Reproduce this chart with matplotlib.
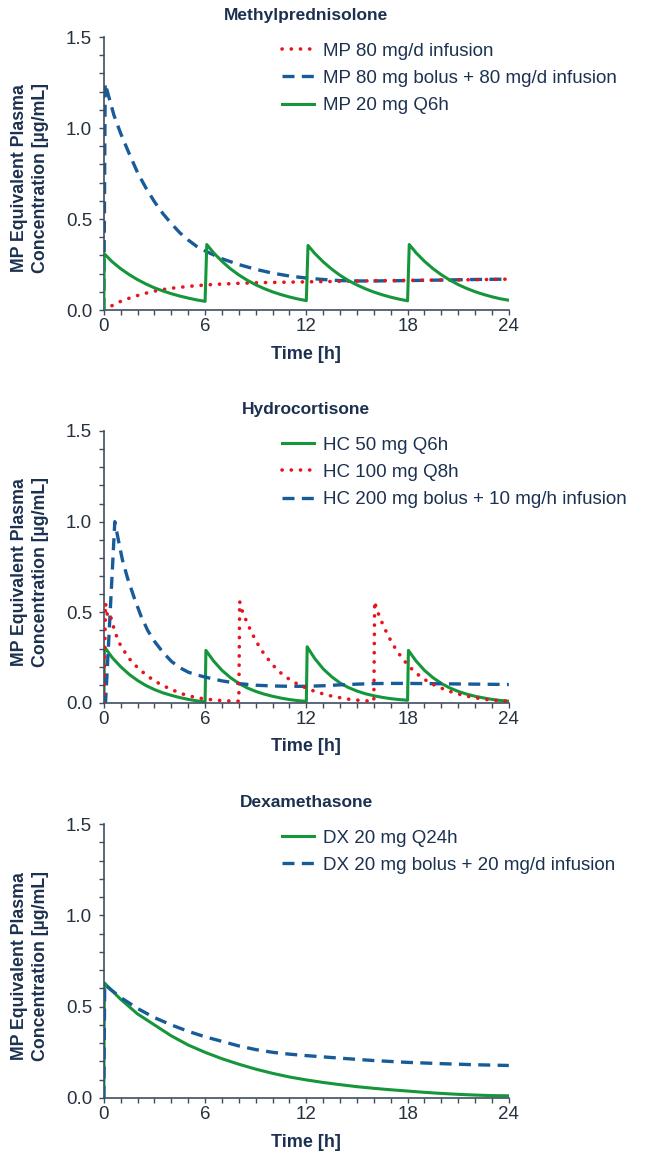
import matplotlib
matplotlib.use("Agg")
import matplotlib.pyplot as plt
from matplotlib.ticker import MultipleLocator

plt.rcParams["font.family"] = ["Liberation Sans", "DejaVu Sans"]

NAVY = "#1c3150"
TICK_COLOR = "#26313f"
SPINE_COLOR = "#3f4d60"
RED = "#e8141c"
BLUE = "#175c99"
GREEN = "#16963a"

# ---- Methylprednisolone ----
mp_inf_t = [0, 0.5, 1, 1.5, 2, 2.5, 3, 3.5, 4, 5, 6, 7, 8, 9, 10, 12, 14, 16, 18, 20, 22, 24]
mp_inf_c = [0, 0.025, 0.048, 0.065, 0.08, 0.093, 0.104, 0.113, 0.12, 0.13, 0.138, 0.143,
            0.147, 0.15, 0.152, 0.155, 0.158, 0.161, 0.163, 0.165, 0.167, 0.17]

mp_bolus_t = [0, 0.08, 0.3, 0.6, 1, 1.5, 2, 2.5, 3, 3.5, 4, 4.5, 5, 5.5, 6, 7, 8, 9, 10,
              11, 12, 13, 14, 15, 16, 18, 20, 22, 24]
mp_bolus_c = [0, 1.245, 1.17, 1.07, 0.97, 0.86, 0.755, 0.67, 0.595, 0.53, 0.475, 0.425,
              0.385, 0.35, 0.325, 0.282, 0.25, 0.224, 0.203, 0.187, 0.176, 0.168, 0.162,
              0.16, 0.16, 0.162, 0.165, 0.168, 0.17]

mp_q6_t = [0, 0.02, 0.5, 1, 1.5, 2, 2.5, 3, 3.5, 4, 4.5, 5, 5.5, 6.0,
           6.1, 6.5, 7, 7.5, 8, 8.5, 9, 9.5, 10, 10.5, 11, 11.5, 12.0,
           12.1, 12.5, 13, 13.5, 14, 14.5, 15, 15.5, 16, 16.5, 17, 17.5, 18.0,
           18.1, 18.5, 19, 19.5, 20, 20.5, 21, 21.5, 22, 22.5, 23, 23.5, 24]
mp_q6_c = [0, 0.31, 0.265, 0.227, 0.195, 0.167, 0.143, 0.122, 0.105, 0.09, 0.077, 0.066, 0.056, 0.048,
           0.36, 0.315, 0.268, 0.227, 0.193, 0.164, 0.139, 0.118, 0.1, 0.085, 0.072, 0.061, 0.052,
           0.355, 0.311, 0.265, 0.225, 0.191, 0.162, 0.138, 0.117, 0.099, 0.084, 0.071, 0.06, 0.051,
           0.36, 0.315, 0.268, 0.228, 0.194, 0.165, 0.14, 0.119, 0.101, 0.086, 0.073, 0.062, 0.054]

# ---- Hydrocortisone ----
hc_q6_t = [0, 0.03, 0.5, 1, 1.5, 2, 2.5, 3, 3.5, 4, 4.5, 5, 5.5, 6.0,
           6.05, 6.5, 7, 7.5, 8, 8.5, 9, 9.5, 10, 10.5, 11, 11.5, 12.0,
           12.05, 12.5, 13, 13.5, 14, 14.5, 15, 15.5, 16, 16.5, 17, 17.5, 18.0,
           18.05, 18.5, 19, 19.5, 20, 20.5, 21, 21.5, 22, 22.5, 23, 23.5, 24]
hc_q6_c = [0, 0.31, 0.25, 0.2, 0.158, 0.124, 0.096, 0.074, 0.056, 0.042, 0.03, 0.02, 0.012, 0.007,
           0.29, 0.232, 0.18, 0.14, 0.108, 0.083, 0.064, 0.049, 0.037, 0.027, 0.019, 0.013, 0.009,
           0.31, 0.245, 0.188, 0.145, 0.11, 0.085, 0.066, 0.051, 0.04, 0.031, 0.024, 0.019, 0.015,
           0.29, 0.232, 0.18, 0.14, 0.108, 0.083, 0.064, 0.049, 0.037, 0.028, 0.02, 0.014, 0.01]

hc_q8_t = [0, 0.1, 0.2, 0.35, 0.5, 0.75, 1, 1.5, 2, 2.5, 3, 3.5, 4, 4.5, 5, 5.5, 6, 6.5, 7, 7.5, 8.0,
           8.05, 8.15, 8.5, 8.75, 9, 9.25, 9.5, 10, 10.5, 11, 11.5, 12, 12.5, 13, 13.5, 14, 14.5, 15, 15.5, 16.0,
           16.05, 16.15, 16.5, 16.75, 17, 17.25, 17.5, 18, 18.5, 19, 19.5, 20, 20.5, 21, 21.5, 22, 22.5, 23, 23.5, 24]
hc_q8_c = [0, 0.55, 0.49, 0.5, 0.44, 0.37, 0.315, 0.245, 0.195, 0.155, 0.122, 0.096, 0.075, 0.055, 0.04,
           0.03, 0.022, 0.017, 0.013, 0.011, 0.01,
           0.56, 0.52, 0.44, 0.39, 0.345, 0.305, 0.27, 0.21, 0.165, 0.13, 0.103, 0.082, 0.064, 0.05,
           0.038, 0.029, 0.021, 0.016, 0.012, 0.01,
           0.56, 0.52, 0.44, 0.39, 0.345, 0.305, 0.27, 0.21, 0.165, 0.13, 0.103, 0.082, 0.064, 0.05,
           0.038, 0.029, 0.021, 0.016, 0.012, 0.01]

hc_bolus_t = [0, 0.1, 0.65, 0.9, 1.1, 1.4, 1.8, 2.2, 2.6, 3.0, 3.5, 4, 4.5, 5, 5.5, 6, 6.5, 7, 8, 9,
              10, 11, 12, 13, 14, 15, 16, 17, 18, 19, 20, 21, 22, 23, 24]
hc_bolus_c = [0, 0, 1.0, 0.88, 0.79, 0.69, 0.58, 0.48, 0.4, 0.34, 0.28, 0.23, 0.195, 0.17, 0.155,
              0.143, 0.132, 0.122, 0.107, 0.098, 0.094, 0.092, 0.092, 0.095, 0.1, 0.104, 0.107,
              0.108, 0.108, 0.107, 0.106, 0.105, 0.104, 0.103, 0.102]

# ---- Dexamethasone ----
dx_q24_t = [0, 0.03, 1, 2, 3, 4, 5, 6, 7, 8, 9, 10, 11, 12, 13, 14, 15, 16, 17, 18, 19, 20,
            21, 22, 23, 24]
dx_q24_c = [0, 0.63, 0.54, 0.46, 0.4, 0.34, 0.29, 0.25, 0.215, 0.185, 0.158, 0.135, 0.115,
            0.099, 0.085, 0.073, 0.062, 0.053, 0.045, 0.038, 0.031, 0.025, 0.02, 0.016, 0.013, 0.012]

dx_bolus_t = [0, 0.05, 1, 2, 3, 4, 5, 6, 7, 8, 9, 10, 11, 12, 14, 16, 18, 20, 22, 24]
dx_bolus_c = [0, 0.62, 0.55, 0.49, 0.44, 0.4, 0.365, 0.335, 0.31, 0.285, 0.265, 0.25, 0.24,
              0.232, 0.218, 0.205, 0.195, 0.188, 0.182, 0.178]

STYLES = {
    "red": dict(color=RED, lw=2.6, linestyle=(0, (0.05, 2.5)), dash_capstyle="round"),
    "blue": dict(color=BLUE, lw=2.4, linestyle=(0, (3.6, 2.2))),
    "green": dict(color=GREEN, lw=2.2, linestyle="-"),
}

PANELS = [
    ("Methylprednisolone", [0.160, 0.732, 0.624, 0.236], [
        ("MP 80 mg/d infusion", mp_inf_t, mp_inf_c, "red", 3),
        ("MP 80 mg bolus + 80 mg/d infusion", mp_bolus_t, mp_bolus_c, "blue", 2),
        ("MP 20 mg Q6h", mp_q6_t, mp_q6_c, "green", 4),
    ]),
    ("Hydrocortisone", [0.160, 0.3924, 0.624, 0.2351], [
        ("HC 50 mg Q6h", hc_q6_t, hc_q6_c, "green", 2),
        ("HC 100 mg Q8h", hc_q8_t, hc_q8_c, "red", 4),
        ("HC 200 mg bolus + 10 mg/h infusion", hc_bolus_t, hc_bolus_c, "blue", 3),
    ]),
    ("Dexamethasone", [0.160, 0.051, 0.624, 0.2368], [
        ("DX 20 mg Q24h", dx_q24_t, dx_q24_c, "green", 2),
        ("DX 20 mg bolus + 20 mg/d infusion", dx_bolus_t, dx_bolus_c, "blue", 3),
    ]),
]

fig = plt.figure(figsize=(6.49, 11.57), dpi=100)

for title, rect, series in PANELS:
    ax = fig.add_axes(rect)
    for label, t, c, style, z in series:
        ax.plot(t, c, label=label, zorder=z, **STYLES[style])

    ax.set_xlim(0, 24)
    ax.set_ylim(0, 1.5)
    ax.xaxis.set_major_locator(MultipleLocator(6))
    ax.xaxis.set_minor_locator(MultipleLocator(1))
    ax.yaxis.set_major_locator(MultipleLocator(0.5))
    ax.yaxis.set_minor_locator(MultipleLocator(0.1))
    ax.yaxis.set_major_formatter(lambda v, p: f"{v:.1f}")
    ax.tick_params(which="both", direction="out", length=3.5, width=1,
                   color=SPINE_COLOR, labelsize=13.5, labelcolor=TICK_COLOR)
    ax.tick_params(axis="y", pad=5)
    ax.tick_params(axis="x", pad=2.5)
    for side in ("top", "right"):
        ax.spines[side].set_visible(False)
    for side in ("left", "bottom"):
        ax.spines[side].set_color(SPINE_COLOR)
        ax.spines[side].set_linewidth(1.2)

    ax.set_title(title, fontsize=12.5, fontweight="bold", color=NAVY, pad=12)
    ax.set_xlabel("Time [h]", fontsize=13, fontweight="bold", color=NAVY)
    ax.xaxis.set_label_coords(0.5, -0.13)
    ax.set_ylabel("MP Equivalent Plasma\nConcentration [µg/mL]", fontsize=12.8,
                  fontweight="bold", color=NAVY, linespacing=1.3)
    ax.yaxis.set_label_coords(-0.135, 0.482)

    leg = ax.legend(loc="upper left", bbox_to_anchor=(0.44, 0.98), frameon=False,
                    fontsize=13.5, handlelength=1.7, handletextpad=0.5,
                    labelspacing=0.55, borderpad=0, borderaxespad=0)
    for text in leg.get_texts():
        text.set_color(NAVY)

fig.savefig("out.png", dpi=100)
